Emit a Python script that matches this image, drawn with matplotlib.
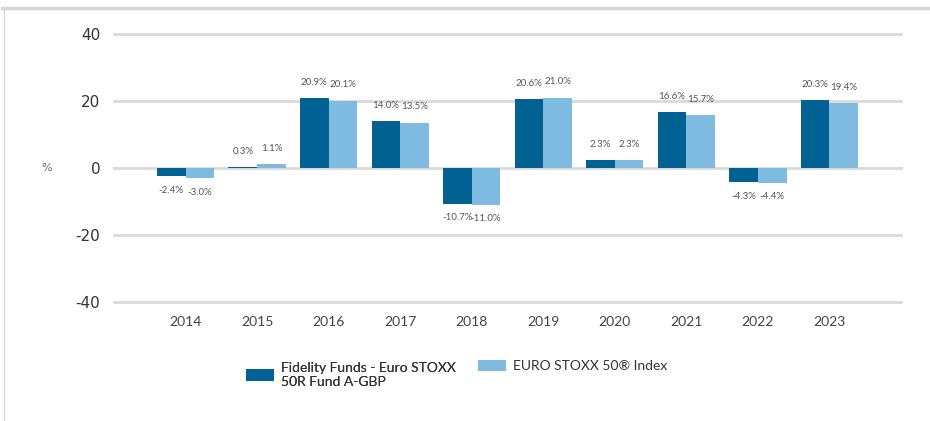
"""Calendar-year returns: Fidelity Euro STOXX 50 fund vs index."""
import matplotlib.pyplot as plt
import numpy as np
from matplotlib.lines import Line2D
from matplotlib.patches import Patch

years = ["2014", "2015", "2016", "2017", "2018",
         "2019", "2020", "2021", "2022", "2023"]
fund = [-2.4, 0.3, 20.9, 14.0, -10.7, 20.6, 2.3, 16.6, -4.3, 20.3]
index = [-3.0, 1.1, 20.1, 13.5, -11.0, 21.0, 2.3, 15.7, -4.4, 19.4]
yticks = [-40, -20, 0, 20, 40]

fund_name = "Fidelity Funds - Euro STOXX\n50R Fund A-GBP"
index_name = "EURO STOXX 50® Index"

DARK = "#006192"
LIGHT = "#7fbbe1"
GRID = "#d9d9d9"
LABEL = "#555555"

fig = plt.figure(figsize=(9.30, 4.21), dpi=100)
ax = fig.add_axes([0.1226, 0.2827, 0.8462, 0.6363])

x = np.arange(len(years))
w = 0.4
b1 = ax.bar(x - w / 2, fund, w, color=DARK, zorder=3)
b2 = ax.bar(x + w / 2, index, w, color=LIGHT, zorder=3)

for bars, vals in ((b1, fund), (b2, index)):
    for bar, v in zip(bars, vals):
        cx = bar.get_x() + bar.get_width() / 2
        off = 16 if v >= 0 else -14
        ax.annotate(f"{v:.1f}%", (cx, v), xytext=(0, off),
                    textcoords="offset pixels", ha="center", va="center",
                    fontsize=7, color=LABEL, family="Lato")

ax.set_xlim(-1, len(years))
ax.set_ylim(-40, 40)
ax.set_yticks(yticks)
ax.set_yticklabels([str(t) for t in yticks], fontsize=11, color="#333333")
ax.set_xticks(x)
ax.set_xticklabels(years, fontsize=10, color="#444444", family="Lato")
ax.tick_params(length=0)
ax.tick_params(axis="y", pad=10)
ax.tick_params(axis="x", pad=10)
for t in yticks:
    ax.axhline(t, color=GRID, lw=2, zorder=1, clip_on=False)
for s in ax.spines.values():
    s.set_visible(False)

fig.text(47 / 930, 1 - 168 / 421, "%", fontsize=8, color="#666666",
         ha="center", va="center")

# legend drawn as two entries side by side
handles = [Patch(facecolor=DARK, edgecolor="none"),
           Patch(facecolor=LIGHT, edgecolor="none")]
leg_kw = dict(loc="center left", frameon=False, borderpad=0, borderaxespad=0,
              prop={"family": "Lato", "size": 10}, handlelength=2.0,
              handleheight=0.9, handletextpad=0.55, labelcolor="#333333")
leg1 = fig.legend([handles[0]], [fund_name],
                  bbox_to_anchor=(246 / 930, 1 - 375 / 421), **leg_kw)
fig.add_artist(leg1)
fig.legend([handles[1]], [index_name],
           bbox_to_anchor=(478 / 930, 1 - 366 / 421), **leg_kw)

# outer frame lines (top and left)
fig.add_artist(Line2D([2 / 930, 1], [1 - 8 / 421, 1 - 8 / 421],
                      color="#d6d6d6", lw=2.5, transform=fig.transFigure))
fig.add_artist(Line2D([4 / 930, 4 / 930], [0, 1 - 8 / 421],
                      color="#d6d6d6", lw=1, transform=fig.transFigure))

fig.savefig("out.png", dpi=100)
